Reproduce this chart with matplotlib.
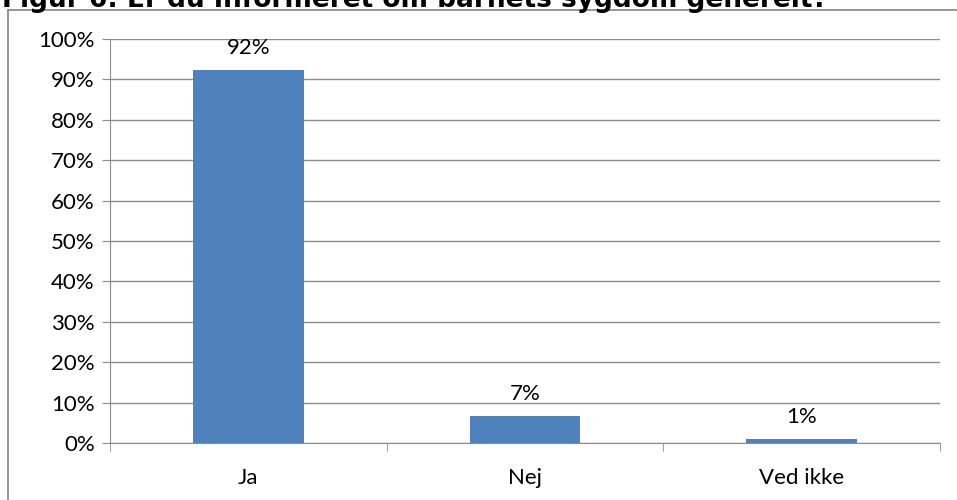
import matplotlib
matplotlib.use("Agg")
import matplotlib.pyplot as plt
from matplotlib.patches import Rectangle

categories = ["Ja", "Nej", "Ved ikke"]
values = [92.3, 6.7, 1.0]
yticks = [0, 10, 20, 30, 40, 50, 60, 70, 80, 90, 100]
title = "Figur 6: Er du informeret om barnets sygdom generelt?"

W, H = 957, 500
fig = plt.figure(figsize=(W / 100, H / 100), dpi=100)
plt.rcParams['font.family'] = ['Lato', 'DejaVu Sans']
FS = 16

# outer chart border
fig.patches.append(Rectangle((8 / W, -0.1), 1.2, 1 - 10 / H + 0.1, transform=fig.transFigure,
                             fill=False, edgecolor="#8c8c8c", linewidth=1.3))

fig.text(2 / W, 1 - 7 / H, title, fontsize=19, fontweight="bold", family="DejaVu Sans",
         ha="left", va="baseline")

ax = fig.add_axes([110 / W, 1 - 443 / H, 830 / W, 404 / H])
x = range(len(categories))
ax.bar(x, values, width=0.4, color="#4f81bd", zorder=3)
for i, v in enumerate(values):
    ax.text(i, v + 3.0, f"{v:.0f}%", ha="center", va="bottom", fontsize=FS)

ax.set_xlim(-0.5, len(categories) - 0.5)
ax.set_ylim(0, 100)
ax.set_yticks(yticks)
ax.set_yticklabels([f"{t}%" for t in yticks], fontsize=FS)
ax.set_xticks(list(x))
ax.set_xticklabels(categories, fontsize=FS)
ax.tick_params(axis="x", length=0, pad=18)
ax.tick_params(axis="y", length=6, color="#8c8c8c", pad=5)
ax.set_xticks([-0.5 + k for k in range(len(categories) + 1)], minor=True)
ax.tick_params(axis="x", which="minor", length=6, color="#8c8c8c")
ax.grid(axis="y", color="#8c8c8c", linewidth=1, zorder=0)
for s in ["top", "right"]:
    ax.spines[s].set_visible(False)
ax.spines["left"].set_color("#8c8c8c")
ax.spines["bottom"].set_color("#8c8c8c")

fig.savefig("out.png", dpi=100)
